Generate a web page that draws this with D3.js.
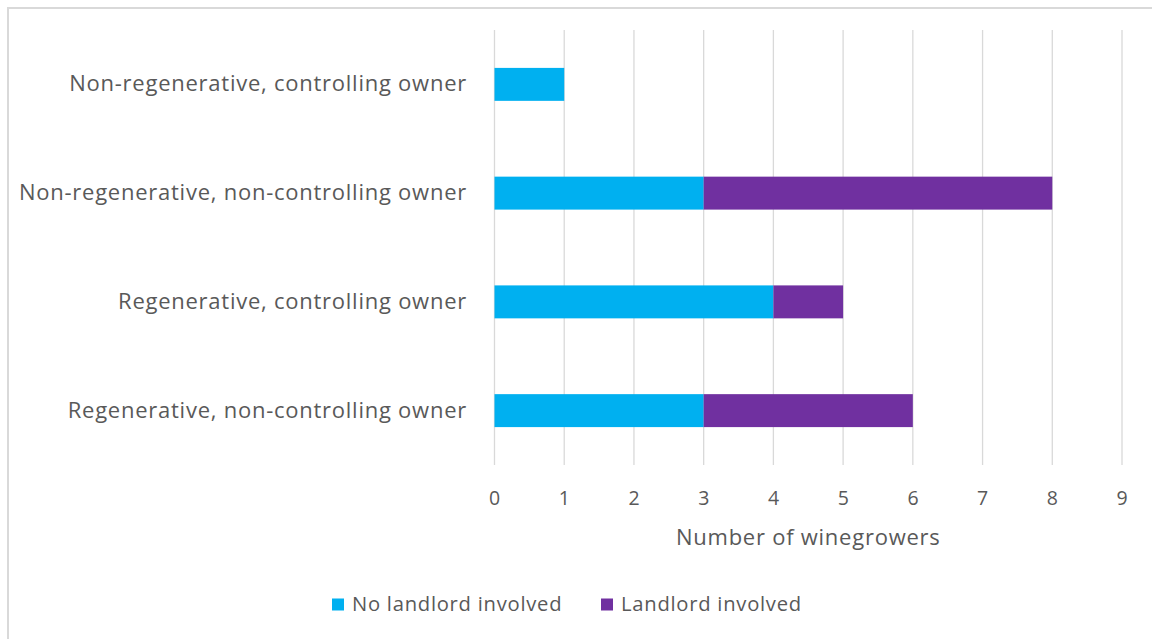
<!DOCTYPE html>
<html>
<head>
<meta charset="utf-8">
<script src="https://cdn.jsdelivr.net/npm/d3@7"></script>
<style>
  html, body { margin: 0; padding: 0; background: #fff; }
  svg text { font-family: "Open Sans", "Lato", sans-serif; fill: #595959; letter-spacing: 0.75px; }
</style>
</head>
<body>
<svg id="chart" width="1152" height="639"></svg>
<script>
// Winegrower groups and counts, split by landlord involvement
const categories = [
  "Non-regenerative, controlling owner",
  "Non-regenerative, non-controlling owner",
  "Regenerative, controlling owner",
  "Regenerative, non-controlling owner"
];
const seriesNames = ["No landlord involved", "Landlord involved"];
const noLandlord = [1, 3, 4, 3];
const landlord = [0, 5, 1, 3];
const xTicks = [0, 1, 2, 3, 4, 5, 6, 7, 8, 9];
const colors = ["#00B0F0", "#7030A0"];

const FONT = "'Open Sans', Lato, sans-serif";
const svg = d3.select("#chart");

// chart frame
svg.append("rect")
  .attr("x", 8).attr("y", 8)
  .attr("width", 1160).attr("height", 660)
  .attr("fill", "none").attr("stroke", "#d9d9d9").attr("stroke-width", 2);

const plot = { left: 494.5, right: 1122, top: 30, bottom: 465 };

const x = d3.scaleLinear().domain([0, 9]).range([plot.left, plot.right]);
const y = d3.scaleBand().domain(categories).range([plot.top, plot.bottom]).paddingInner(0.697).paddingOuter(0.3485);

// vertical gridlines
svg.append("g")
  .selectAll("line")
  .data(xTicks)
  .join("line")
  .attr("x1", d => x(d)).attr("x2", d => x(d))
  .attr("y1", plot.top).attr("y2", plot.bottom)
  .attr("stroke", "#d9d9d9").attr("stroke-width", 1.3);

// stacked bars
const rows = categories.map((c, i) => ({ cat: c, [seriesNames[0]]: noLandlord[i], [seriesNames[1]]: landlord[i] }));
const stack = d3.stack().keys(seriesNames)(rows);

svg.append("g")
  .selectAll("g")
  .data(stack)
  .join("g")
  .attr("fill", (d, i) => colors[i])
  .selectAll("rect")
  .data(d => d)
  .join("rect")
  .attr("x", d => x(d[0]))
  .attr("y", d => y(d.data.cat))
  .attr("width", d => x(d[1]) - x(d[0]))
  .attr("height", y.bandwidth());

// x tick labels
const xAxis = d3.axisBottom(x).tickValues(xTicks).tickSize(0).tickPadding(0);
const gx = svg.append("g").attr("transform", `translate(0, 491)`).call(xAxis);
gx.select(".domain").remove();
gx.selectAll("text")
  .attr("dy", "0.71em")
  .style("font-size", "19.5px")
  .style("font-family", FONT)
  .attr("fill", "#595959");

// category labels
const yAxis = d3.axisLeft(y).tickSize(0).tickPadding(0);
const gy = svg.append("g").attr("transform", `translate(467, 0)`).call(yAxis);
gy.select(".domain").remove();
gy.selectAll("text")
  .style("font-size", "22px")
  .style("font-family", FONT)
  .attr("fill", "#595959");

// axis title
svg.append("text")
  .attr("x", (plot.left + plot.right) / 2)
  .attr("y", 545)
  .attr("text-anchor", "middle")
  .style("font-size", "22px")
  .text("Number of winegrowers");

// legend
const legendItems = [
  { name: seriesNames[0], color: colors[0], x: 332 },
  { name: seriesNames[1], color: colors[1], x: 601 }
];
const lg = svg.append("g");
lg.selectAll("rect")
  .data(legendItems)
  .join("rect")
  .attr("x", d => d.x).attr("y", 598.5)
  .attr("width", 12).attr("height", 12)
  .attr("fill", d => d.color);
lg.selectAll("text")
  .data(legendItems)
  .join("text")
  .attr("x", d => d.x + 20)
  .attr("y", 611)
  .style("font-size", "20.2px")
  .text(d => d.name);
</script>
</body>
</html>
